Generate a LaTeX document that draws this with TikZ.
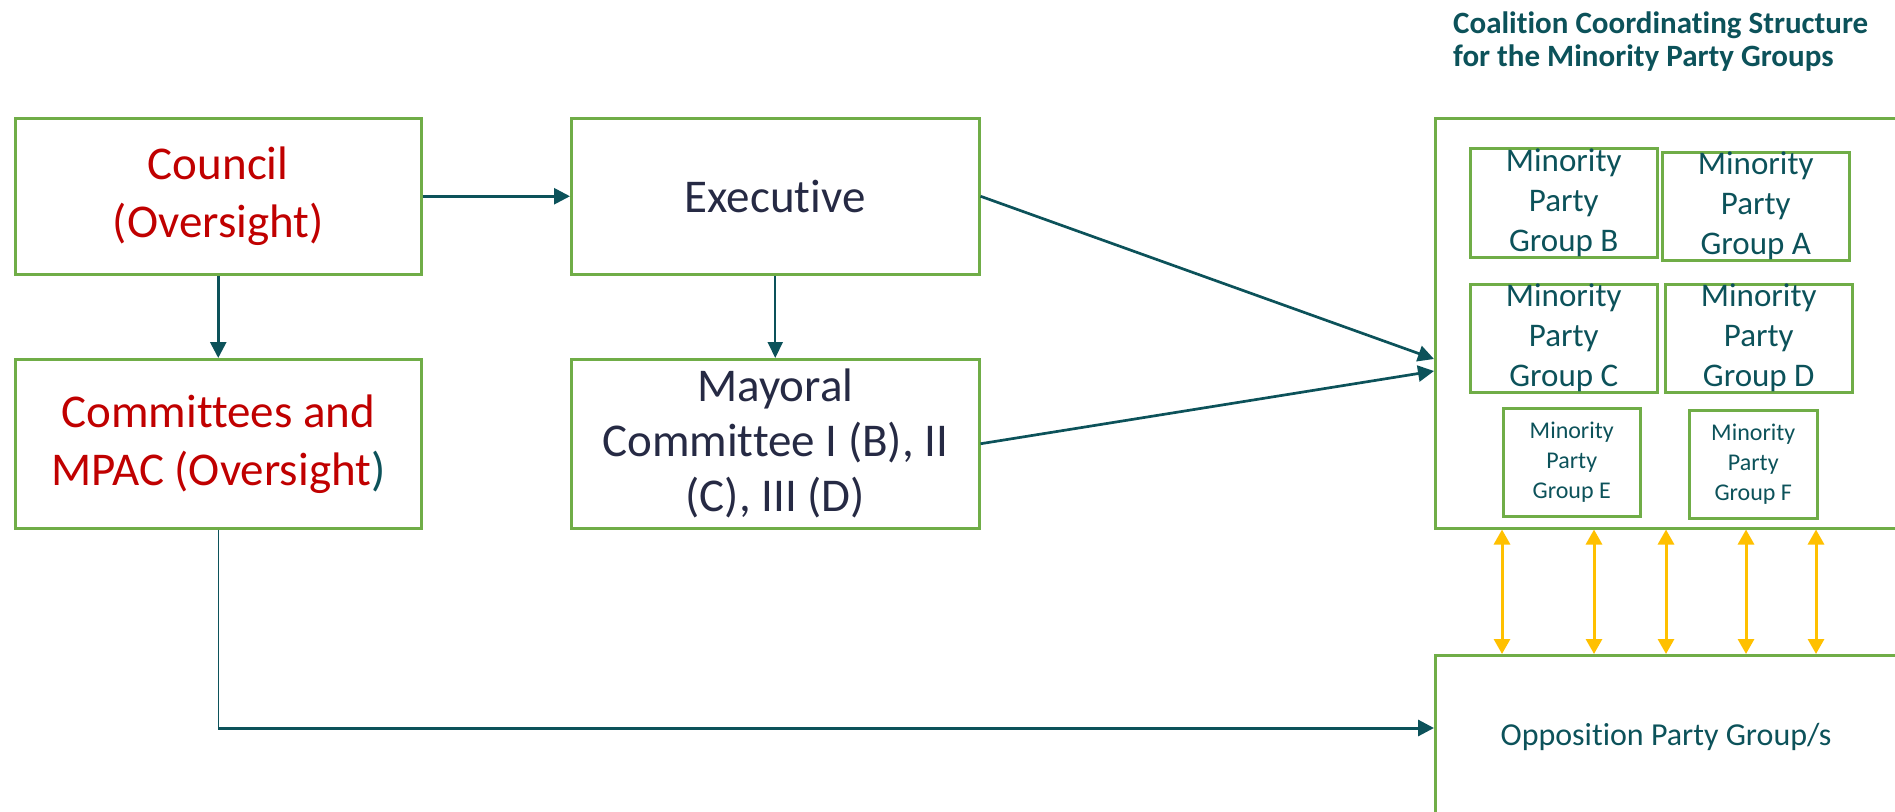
\documentclass[tikz,border=0pt]{standalone}
\usepackage{fontspec}
\setmainfont{Carlito}[Ligatures={NoCommon,NoContextual}]
\usetikzlibrary{arrows.meta}
\definecolor{gborder}{RGB}{112,173,71}
\definecolor{tealc}{RGB}{12,82,90}
\definecolor{redc}{RGB}{192,0,0}
\definecolor{navyc}{RGB}{38,42,68}
\definecolor{yellowc}{RGB}{255,192,0}
\begin{document}
\begin{tikzpicture}[x=1pt,y=-1pt,
  gbox/.style={draw=gborder, line width=2.5pt, inner sep=0pt, anchor=north west, align=center},
  bigfont/.style={font=\fontsize{47}{58}\selectfont},
  mayfont/.style={font=\fontsize{47}{55}\selectfont},
  minfont/.style={font=\fontsize{33}{40}\selectfont, text=tealc},
  smallfont/.style={font=\fontsize{24}{30}\selectfont, text=tealc},
  tarr/.style={draw=tealc, line width=2.7pt, -{Triangle[length=16pt,width=16pt]}},
  tarrthin/.style={draw=tealc, line width=2pt, -{Triangle[length=16pt,width=15pt]}},
  yarr/.style={draw=yellowc, line width=3pt, {Triangle[length=15pt,width=16pt]}-{Triangle[length=15pt,width=16pt]}},
  titlefont/.style={font=\fontsize{31}{32}\selectfont\bfseries, text=tealc, anchor=base west, inner sep=0pt}
]
\useasboundingbox (0,0) rectangle (1895,811);
\clip (0,0) rectangle (1895,811);

% left and middle boxes
\node[gbox, bigfont, text=redc, minimum width=406pt, minimum height=156pt] (council) at (14,117) {Council\\(Oversight)};
\node[gbox, bigfont, text=redc, minimum width=406pt, minimum height=169pt] (comm) at (14,358) {Committees and\\MPAC (Oversight{\color{tealc})}};
\node[gbox, bigfont, text=navyc, minimum width=408pt, minimum height=156pt] (exec) at (570,117) {Executive};
\node[gbox, mayfont, text=navyc, minimum width=408pt, minimum height=169pt] (mayor) at (570,358) {Mayoral\\Committee I (B), II\\(C), III (D)};

% right structure
\node[titlefont] (title1) at (1453,33) {Coalition Coordinating Structure};
\node[titlefont] (title2) at (1453,66) {for the Minority Party Groups};
\node[gbox, minimum width=480pt, minimum height=410pt] (big) at (1434,117) {};
\node[gbox, minimum width=480pt, minimum height=200pt] (opp) at (1434,654) {};
\node[font=\fontsize{32}{38}\selectfont, text=tealc, inner sep=0pt] (opptext) at (1666,737) {Opposition Party Group/s};

\node[gbox, minfont, minimum width=187pt, minimum height=109pt] (grpB) at (1469,147) {Minority\\Party\\Group B};
\node[gbox, minfont, minimum width=187pt, minimum height=107pt] (grpA) at (1661,151) {Minority\\Party\\Group A};
\node[gbox, minfont, minimum width=187pt, minimum height=108pt] (grpC) at (1469,283) {Minority\\Party\\Group C};
\node[gbox, minfont, minimum width=187pt, minimum height=108pt] (grpD) at (1664,283) {Minority\\Party\\Group D};
\node[gbox, smallfont, minimum width=137pt, minimum height=108pt] (grpE) at (1502,407) {Minority\\Party\\Group E};
\node[gbox, smallfont, minimum width=128pt, minimum height=108pt] (grpF) at (1688,409) {Minority\\Party\\Group F};

% connectors
\draw[tarr] (council.east) -- (exec.west);
\draw[tarr] (council.south) -- (comm.north);
\draw[tarrthin] (exec.south) -- (mayor.north);
\coordinate (bin1) at (1434,359);
\coordinate (bin2) at (1434,371);
\draw[tarr] (exec.east) -- (bin1);
\draw[tarr] (mayor.east) -- (bin2);
\coordinate (corner) at (comm.south |- 0,728);
\coordinate (oppin) at (opp.west |- 0,728);
\draw[draw=tealc, line width=1.2pt] (comm.south) -- (corner);
\draw[tarr, line width=3pt] (corner) -- (oppin);
\foreach \xx in {1502,1594,1666,1746,1816}
  \draw[yarr] (big.south -| \xx,0) -- (opp.north -| \xx,0);
\end{tikzpicture}
\end{document}
